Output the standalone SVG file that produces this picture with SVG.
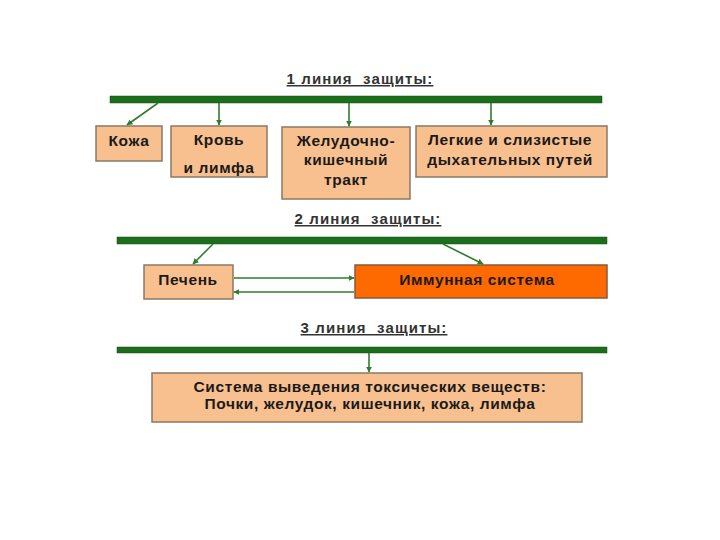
<svg xmlns="http://www.w3.org/2000/svg" width="720" height="540" viewBox="0 0 720 540">
  <defs>
    <marker id="ah" viewBox="0 0 10 10" refX="9" refY="5" markerWidth="6" markerHeight="6" markerUnits="userSpaceOnUse" orient="auto">
      <path d="M0,0 L10,5 L0,10 z" fill="#2e7d2e"/>
    </marker>
    <style>
      .bar { fill: #1b6e1b; stroke: #145214; stroke-width: 0.5; }
      .box { fill: #f9c08f; stroke: #8a7866; stroke-width: 1.5; }
      .imm { fill: #ff6a00; stroke: #8a5a3a; stroke-width: 1.5; }
      .t { font-family: "Liberation Sans", Arial, sans-serif; font-weight: bold; font-size: 15.5px; letter-spacing: 0.6px; fill: #1a1a1a; text-anchor: middle; }
      .h { font-family: "Liberation Sans", Arial, sans-serif; font-weight: bold; font-size: 15px; letter-spacing: 1.1px; fill: #333333; text-anchor: middle; text-decoration: underline; }
      .c { stroke: #2e7d2e; stroke-width: 1.6; fill: none; marker-end: url(#ah); }
    </style>
  </defs>
  <rect width="720" height="540" fill="#ffffff"/>

  <g id="titles">
    <text class="h" x="360" y="84" xml:space="preserve">1 линия  защиты:</text>
    <text class="h" x="368" y="224" xml:space="preserve">2 линия  защиты:</text>
    <text class="h" x="374" y="333" xml:space="preserve">3 линия  защиты:</text>
  </g>

  <g id="bars">
    <rect class="bar" x="110" y="96" width="492" height="7"/>
    <rect class="bar" x="117" y="237" width="490" height="7"/>
    <rect class="bar" x="117" y="347" width="490" height="6"/>
  </g>

  <g id="skin">
    <rect class="box" x="96" y="126" width="66" height="35"/>
    <text class="t" x="129" y="146">Кожа</text>
  </g>
  <g id="blood">
    <rect class="box" x="171" y="126" width="96" height="51"/>
    <text class="t" x="219" y="145">Кровь</text>
    <text class="t" x="219" y="173">и лимфа</text>
  </g>
  <g id="git">
    <rect class="box" x="282" y="127" width="128" height="72"/>
    <text class="t" x="346" y="146">Желудочно-</text>
    <text class="t" x="346" y="165">кишечный</text>
    <text class="t" x="346" y="185">тракт</text>
  </g>
  <g id="lungs">
    <rect class="box" x="416" y="126" width="191" height="51"/>
    <text class="t" x="510" y="145">Легкие и слизистые</text>
    <text class="t" x="510" y="165">дыхательных путей</text>
  </g>
  <g id="liver">
    <rect class="box" x="144" y="265" width="89" height="34"/>
    <text class="t" x="188" y="285">Печень</text>
  </g>
  <g id="immune">
    <rect class="imm" x="355" y="265" width="252" height="33"/>
    <text class="t" x="477" y="285">Иммунная система</text>
  </g>
  <g id="excretion">
    <rect class="box" x="152" y="373" width="430" height="49"/>
    <text class="t" x="370" y="392">Система выведения токсических веществ:</text>
    <text class="t" x="370" y="409">Почки, желудок, кишечник, кожа, лимфа</text>
  </g>

  <g id="connectors">
    <line class="c" x1="158" y1="103" x2="127" y2="125"/>
    <line class="c" x1="219" y1="103" x2="219" y2="125"/>
    <line class="c" x1="349" y1="103" x2="349" y2="126"/>
    <line class="c" x1="491" y1="103" x2="491" y2="125"/>
    <line class="c" x1="213" y1="244" x2="193" y2="264"/>
    <line class="c" x1="443" y1="244" x2="483" y2="264"/>
    <line class="c" x1="234" y1="278" x2="354" y2="278"/>
    <line class="c" x1="354" y1="292" x2="234" y2="292"/>
    <line class="c" x1="369" y1="353" x2="369" y2="372"/>
  </g>
</svg>
